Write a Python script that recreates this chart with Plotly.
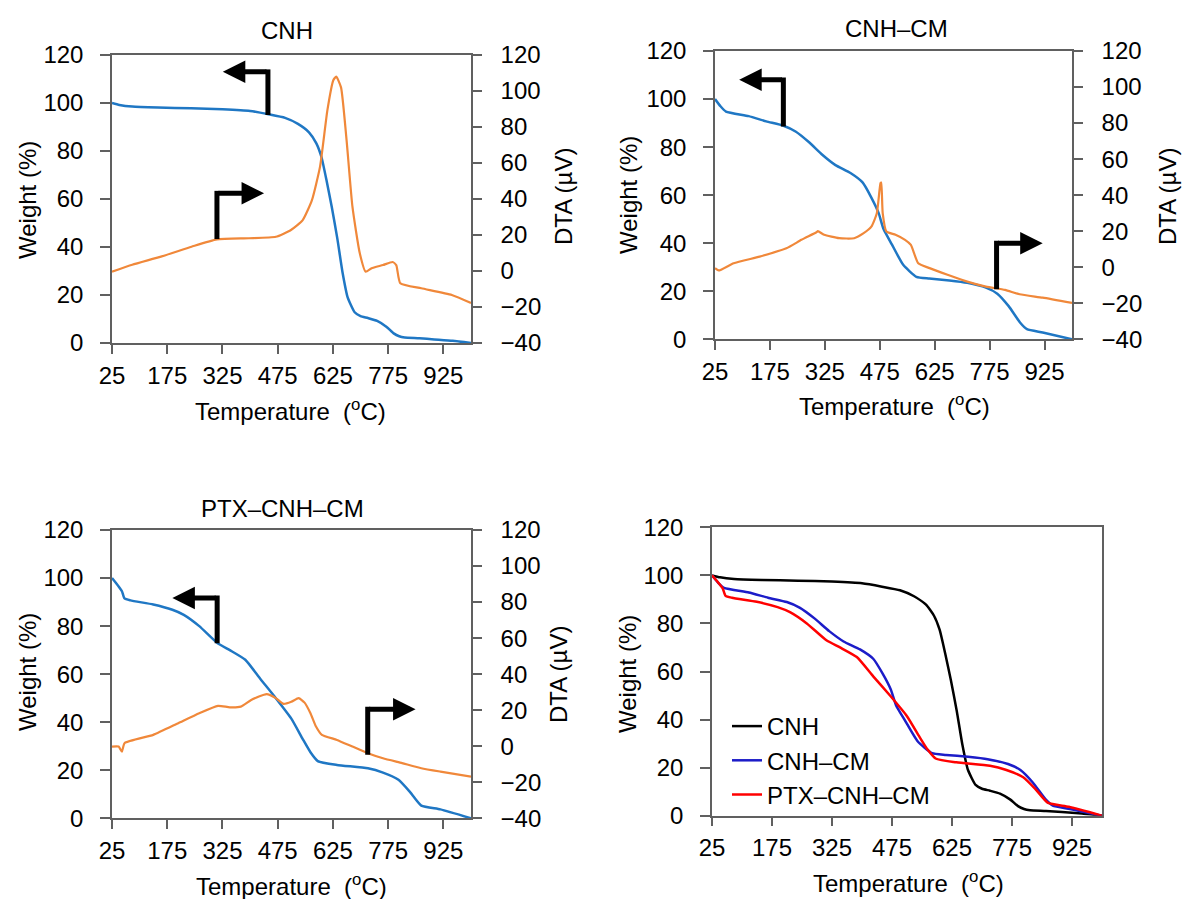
import plotly.graph_objects as go

# ---------------- data ----------------
# CNH
t_cnh_w = [25, 45, 80, 150, 240, 325, 400, 450, 495, 530, 560, 580, 594, 608, 622, 637, 651, 665, 684, 700, 720, 745, 770, 790, 805, 820, 860, 900, 950, 1000]
w_cnh = [100, 99.2, 98.5, 98.1, 97.8, 97.4, 96.7, 95.3, 93.8, 91.3, 87.8, 83.2, 77.4, 67.5, 56.6, 43.5, 29.5, 19.0, 12.8, 11.2, 10.4, 9.2, 6.8, 4.0, 2.8, 2.3, 2.0, 1.5, 0.9, 0]
t_cnh_d = [25, 80, 158, 241, 310, 397, 470, 511, 543, 568, 590, 610, 626, 634, 647, 662, 678, 698, 714, 730, 761, 787, 797, 808, 865, 948, 1000]
d_cnh = [-0.4, 3.5, 8, 13.5, 17.6, 18.2, 19, 22.8, 28.3, 39.4, 58, 89.4, 106, 108, 102, 72.8, 35.7, 9.8, -0.4, 1.5, 3.3, 5, 3.3, -6.8, -9.6, -13.3, -17.8]

# CNH-CM
t_cm_w = [25, 40, 55, 117, 165, 212, 245, 282, 318, 354, 395, 428, 452, 472, 485, 508, 539, 575, 610, 665, 714, 765, 796, 827, 858, 877, 920, 1000]
w_cm = [100, 97, 94.8, 92.9, 90.7, 88.9, 86.5, 82, 76.8, 72.5, 69.2, 65.3, 59, 52.5, 46, 39.5, 31, 26, 25.3, 24.5, 23.5, 21.5, 19, 13.8, 7, 4.2, 2.8, 0]
t_cm_d = [25, 35, 76, 147, 220, 261, 302, 306, 323, 364, 405, 431, 452, 467, 477, 479, 483, 493, 518, 544, 560, 580, 611, 662, 714, 765, 817, 857, 920, 1000]
d_cm = [-0.5, -1.8, 2.2, 5.9, 10.5, 15.2, 19.4, 20, 18, 16.1, 16.1, 18.9, 22.5, 30, 46.7, 47, 30, 19.8, 18, 15.2, 12.4, 2.2, -0.5, -4.3, -8, -10.8, -12.6, -15, -16.9, -19.8]

# PTX-CNH-CM
t_ptx_w = [25, 43, 52, 59, 75, 137, 189, 220, 262, 311, 345, 387, 428, 470, 512, 543, 564, 584, 636, 720, 761, 803, 834, 865, 917, 1000]
w_ptx = [100, 96.5, 94.5, 91.5, 90.7, 89, 86.8, 84.7, 80, 73, 70, 66, 58, 50, 41.5, 33, 27.5, 23.8, 22.2, 20.8, 19, 16, 11, 5.3, 3.7, 0]
t_ptx_d = [25, 43, 52, 59, 137, 205, 262, 313, 345, 375, 403, 445, 470, 491, 512, 532, 548, 564, 579, 595, 636, 678, 720, 761, 813, 865, 917, 1000]
d_ptx = [-0.2, -0.2, -3, 1.7, 6.3, 12.8, 18.3, 22.4, 21.6, 22, 25.7, 28.9, 26.7, 23.5, 24.7, 26.7, 24.2, 18.3, 10.9, 6.3, 3.5, -0.2, -3.9, -6.7, -9.4, -12.2, -14.1, -16.9]

x_ticks = [25, 175, 325, 475, 625, 775, 925]
w_ticks = [0, 20, 40, 60, 80, 100, 120]
d_ticks = [-40, -20, 0, 20, 40, 60, 80, 100, 120]

W_BLUE = "#1F77C4"
D_ORANGE = "#F0883A"
FONT = "Liberation Sans, Arial, sans-serif"
FS = 24
AX = "#606060"

W, H = 1183, 899
def px(x):
    return x / W
def py(y):
    return 1 - y / H

fig = go.Figure()

def tg(x, y, xa, ya, color, name=None, legend=False, width=2.5):
    fig.add_trace(go.Scatter(x=x, y=y, xaxis=xa, yaxis=ya, mode="lines",
                             line=dict(color=color, width=width, shape="spline", smoothing=0.5),
                             name=name, showlegend=legend, hoverinfo="skip"))

tg(t_cnh_w, w_cnh, "x", "y", W_BLUE)
tg(t_cnh_d, d_cnh, "x", "y2", D_ORANGE, width=2.2)
tg(t_cm_w, w_cm, "x2", "y3", W_BLUE)
tg(t_cm_d, d_cm, "x2", "y4", D_ORANGE, width=2.2)
tg(t_ptx_w, w_ptx, "x3", "y5", W_BLUE)
tg(t_ptx_d, d_ptx, "x3", "y6", D_ORANGE, width=2.2)
tg(t_cnh_w, w_cnh, "x4", "y7", "#000000", "CNH", True)
tg(t_cm_w, w_cm, "x4", "y7", "#1C1CC8", "CNH\u2013CM", True)
tg(t_ptx_w, w_ptx, "x4", "y7", "#FF0000", "PTX\u2013CNH\u2013CM", True)

tickfont = dict(family=FONT, size=FS, color="#000")

def xaxis(dom, anchor):
    return dict(domain=dom, anchor=anchor, range=[25, 1000], tickvals=x_ticks,
                ticks="outside", ticklen=9, tickwidth=1.5, tickcolor=AX,
                showline=True, linecolor=AX, linewidth=1.5, mirror=True, automargin=False,
                showgrid=False, zeroline=False, tickfont=tickfont, ticklabelstandoff=1)

def wyaxis(dom, anchor, mirror=False):
    return dict(domain=dom, anchor=anchor, range=[0, 120], tickvals=w_ticks,
                ticks="outside", ticklen=10, tickwidth=1.5, tickcolor=AX,
                showline=True, linecolor=AX, linewidth=1.5, mirror=mirror, automargin=False,
                showgrid=False, zeroline=False, tickfont=tickfont, ticklabelstandoff=12)

def dyaxis(over, anchor):
    return dict(overlaying=over, anchor=anchor, side="right", range=[-40, 120], tickvals=d_ticks,
                ticks="outside", ticklen=9, tickwidth=1.5, tickcolor=AX, automargin=False,
                showline=True, linecolor=AX, linewidth=1.5,
                showgrid=False, zeroline=False, tickfont=tickfont, ticklabelstandoff=14)

p1x = [px(112), px(471)]; p1y = [py(343), py(55)]
p2x = [px(715), px(1072)]; p2y = [py(339.3), py(51)]
p3x = [px(112), px(471)]; p3y = [py(818.3), py(530)]
p4x = [px(712), px(1102)]; p4y = [py(815.7), py(527.3)]

fig.update_layout(
    width=W, height=H, margin=dict(l=0, r=0, t=0, b=0, autoexpand=False),
    paper_bgcolor="white", plot_bgcolor="white",
    font=dict(family=FONT, size=FS, color="#000"),
    xaxis=xaxis(p1x, "y"), yaxis=wyaxis(p1y, "x"), yaxis2=dyaxis("y", "x"),
    xaxis2=xaxis(p2x, "y3"), yaxis3=wyaxis(p2y, "x2"), yaxis4=dyaxis("y3", "x2"),
    xaxis3=xaxis(p3x, "y5"), yaxis5=wyaxis(p3y, "x3"), yaxis6=dyaxis("y5", "x3"),
    xaxis4=xaxis(p4x, "y7"), yaxis7=wyaxis(p4y, "x4", mirror=True),
    legend=dict(x=px(727), y=py(704), xanchor="left", yanchor="top",
                bgcolor="rgba(0,0,0,0)", font=dict(family=FONT, size=FS, color="#000"),
                itemwidth=30, tracegroupgap=0),
    showlegend=True,
)

ann = []
def text(x, y, s, angle=0):
    ann.append(dict(x=px(x), y=py(y), xref="paper", yref="paper", text=s, showarrow=False,
                    textangle=angle, xanchor="center", yanchor="middle",
                    font=dict(family=FONT, size=FS, color="#000")))

TEMP = "Temperature  (<sup>o</sup>C)"
WT = "Weight (%)"
DTA = "DTA (\u00b5V)"
text(287, 31, "CNH"); text(896, 28, "CNH\u2013CM"); text(282, 508, "PTX\u2013CNH\u2013CM")
text(290, 410, TEMP); text(894, 405, TEMP); text(291, 885, TEMP); text(908, 882, TEMP)
text(27, 200, WT, -90); text(629, 195, WT, -90); text(27, 672, WT, -90); text(627, 674, WT, -90)
text(564, 197, DTA, -90); text(1168, 197, DTA, -90); text(558, 675, DTA, -90)

shapes = []
def bent_arrow(xa, ya, corner_x, corner_y, bottom_y, tip_x):
    shapes.append(dict(type="line", xref=xa, yref=ya, x0=corner_x, x1=corner_x,
                       y0=bottom_y, y1=corner_y + 1.0, line=dict(color="black", width=5), layer="above"))
    ann.append(dict(x=tip_x, y=corner_y, ax=corner_x, ay=corner_y, xref=xa, yref=ya,
                    axref=xa, ayref=ya, text="", showarrow=True, arrowhead=2,
                    arrowsize=0.9, arrowwidth=5, arrowcolor="black"))

bent_arrow("x", "y", 448.5, 113, 95, 326)
bent_arrow("x", "y", 310, 62.4, 43.3, 438)
bent_arrow("x2", "y3", 211.7, 108, 88.6, 91)
bent_arrow("x2", "y3", 794, 40, 20.8, 920)
bent_arrow("x3", "y5", 310.6, 91.7, 72.9, 189)
bent_arrow("x3", "y5", 719.5, 45.4, 26.4, 849.5)

fig.update_layout(annotations=ann, shapes=shapes)
fig.write_html("out.html")
